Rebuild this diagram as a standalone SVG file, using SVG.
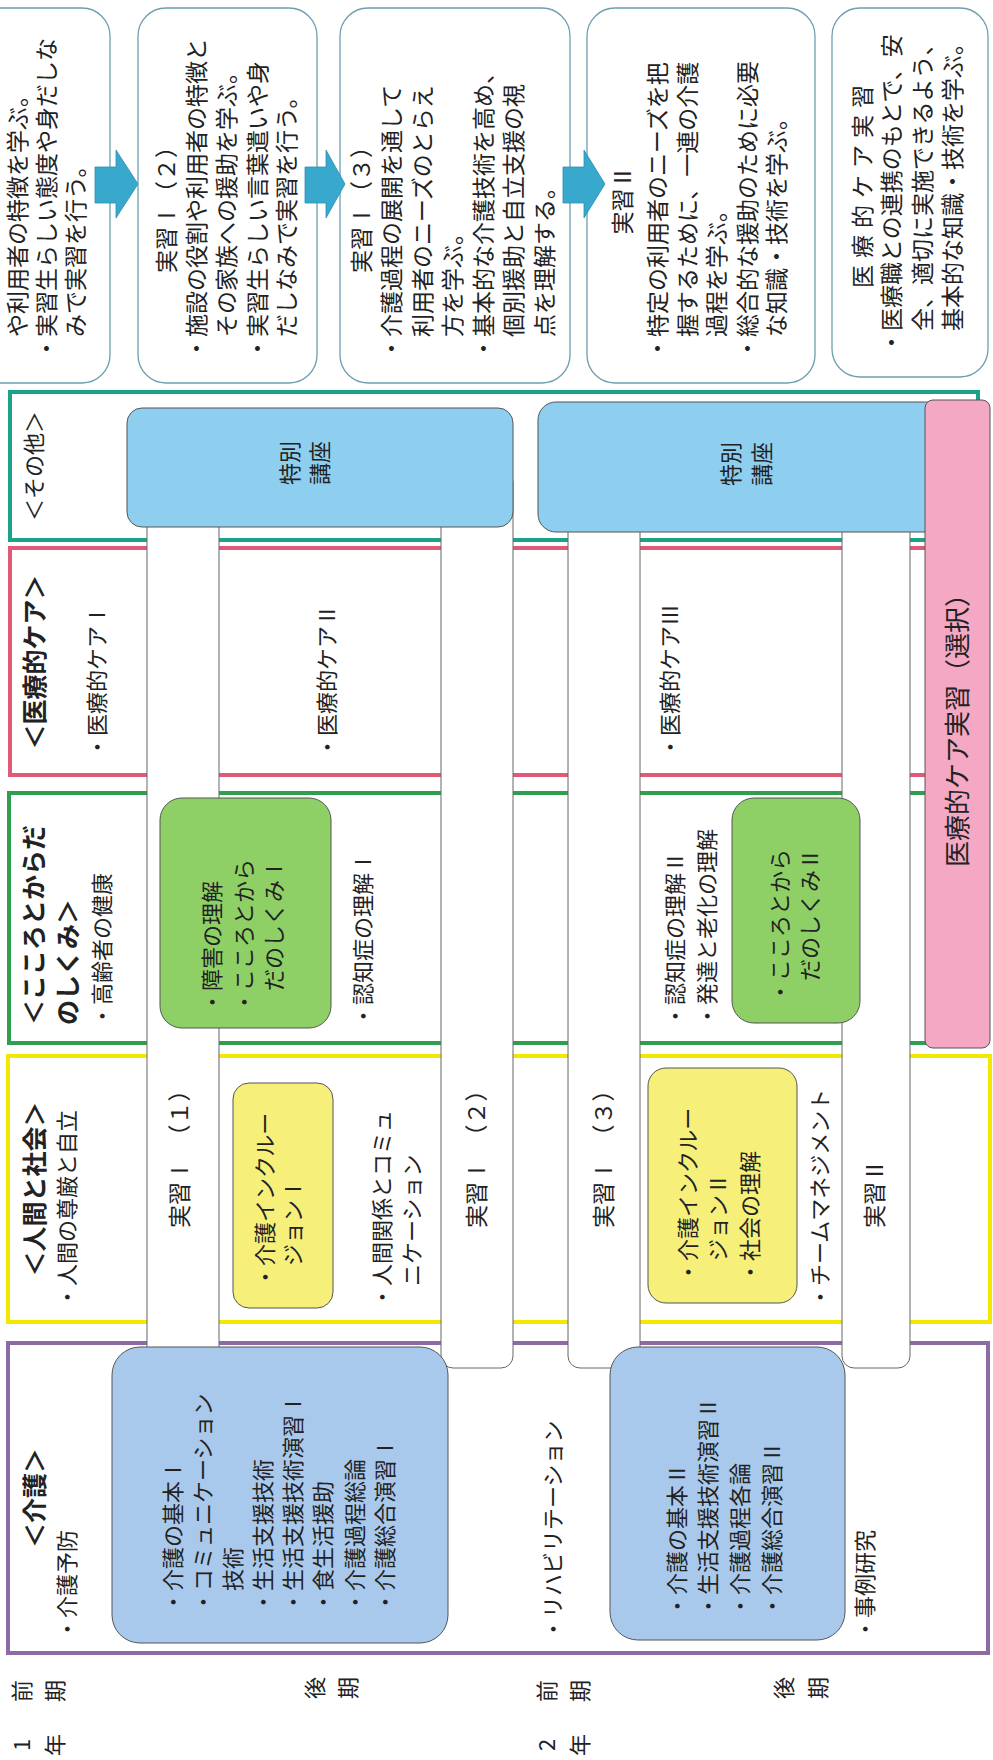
<svg xmlns="http://www.w3.org/2000/svg" width="993" height="1760" viewBox="0 0 993 1760">
<style>
text{font-family:"Noto Sans CJK JP","Noto Sans CJK SC",sans-serif;fill:#222}
.t{font-size:22px}
.h{font-size:25px;font-weight:bold}
.d{font-size:23px}
.m{text-anchor:middle}
.col{fill:#fff;stroke-width:4}
.bar{fill:#fff;stroke:#666;stroke-width:1}
.box{stroke:#555;stroke-width:1}
.desc{fill:#fff;stroke:#6d9fb0;stroke-width:1.3}
.arr{fill:#38a8cc;stroke:#2b8fb3;stroke-width:0.8}
</style>
<rect width="993" height="1760" fill="#fff"/>
<g transform="translate(0,1760) rotate(-90)">

<g id="row-labels" class="t">
<text x="15" y="30" class="m">1</text><text x="15" y="63" class="m">年</text>
<text x="69" y="30" class="m">前</text><text x="69" y="63" class="m">期</text>
<text x="72" y="323" class="m">後</text><text x="72" y="356" class="m">期</text>
<text x="15" y="555" class="m">2</text><text x="15" y="588" class="m">年</text>
<text x="69" y="555" class="m">前</text><text x="69" y="588" class="m">期</text>
<text x="72" y="792" class="m">後</text><text x="72" y="826" class="m">期</text>
</g>

<g id="col-kaigo"><rect class="col" x="107" y="8" width="310" height="980" stroke="#8d6aa6"/></g>
<g id="col-ningen"><rect class="col" x="438" y="8" width="266" height="982" stroke="#f3e800"/></g>
<g id="col-kokoro"><rect class="col" x="717" y="9" width="250" height="969" stroke="#2f9e4f"/></g>
<g id="col-iryo"><rect class="col" x="985" y="10" width="227" height="968" stroke="#e05a78"/></g>
<g id="col-sonota"><rect class="col" x="1220" y="10" width="148" height="968" stroke="#1aa388"/></g>

<g id="bar-jisshu1-1"><rect class="bar" x="392" y="147" width="898" height="72" rx="12"/><text class="d" x="532" y="188">実習Ⅰ　（１）</text></g>
<g id="bar-jisshu1-2"><rect class="bar" x="392" y="441" width="898" height="72" rx="12"/><text class="d" x="532" y="485">実習Ⅰ　（２）</text></g>
<g id="bar-jisshu1-3"><rect class="bar" x="392" y="568" width="898" height="72" rx="12"/><text class="d" x="532" y="612">実習Ⅰ　（３）</text></g>
<g id="bar-jisshu2"><rect class="bar" x="392" y="842" width="898" height="68" rx="12"/><text class="d" x="532" y="883">実習Ⅱ</text></g>

<g id="tokubetsu1"><rect class="box" x="1233" y="127" width="119" height="386" rx="15" fill="#8ecff0"/>
<text class="t m" x="1297" y="298">特別</text><text class="t m" x="1297" y="328">講座</text></g>
<g id="tokubetsu2"><rect class="box" x="1228" y="538" width="130" height="424" rx="18" fill="#8ecff0"/>
<text class="t m" x="1296" y="739">特別</text><text class="t m" x="1296" y="770">講座</text></g>

<g id="iryo-jisshu"><rect class="box" x="712" y="925" width="648" height="65" rx="8" fill="#f4a8c3"/>
<text class="m" style="font-size:26px" x="1036" y="967">医療的ケア実習（選択）</text></g>

<g id="kaigo-head" class="t">
<text class="h m" x="262" y="44">＜介護＞</text>
<text x="120" y="75">・介護予防</text>
<text x="120" y="561">・リハビリテーション</text>
<text x="120" y="873">・事例研究</text>
</g>
<g id="kaigo-list1"><rect class="box" x="117" y="112" width="296" height="336" rx="28" fill="#a9c9ec"/>
<g class="t">
<text x="147" y="181">・介護の基本Ⅰ</text>
<text x="147" y="211">・コミュニケーション</text>
<text x="169" y="241">技術</text>
<text x="147" y="271">・生活支援技術</text>
<text x="147" y="301">・生活支援技術演習Ⅰ</text>
<text x="147" y="331">・食生活援助</text>
<text x="147" y="363">・介護過程総論</text>
<text x="147" y="393">・介護総合演習Ⅰ</text>
</g></g>
<g id="kaigo-list2"><rect class="box" x="120" y="610" width="293" height="235" rx="28" fill="#a9c9ec"/>
<g class="t">
<text x="143" y="685">・介護の基本Ⅱ</text>
<text x="143" y="716">・生活支援技術演習Ⅱ</text>
<text x="143" y="748">・介護過程各論</text>
<text x="143" y="780">・介護総合演習Ⅱ</text>
</g></g>

<g id="ningen-head" class="t">
<text class="h m" x="571" y="44">＜人間と社会＞</text>
<text x="452" y="75">・人間の尊厳と自立</text>
<text x="452" y="390">・人間関係とコミュ</text>
<text x="474" y="420">ニケーション</text>
<text x="452" y="828">・チームマネジメント</text>
</g>
<g id="inclusion1"><rect class="box" x="452" y="233" width="225" height="100" rx="16" fill="#f6f07a"/>
<text class="t" x="472" y="273">・介護インクルー</text><text class="t" x="494" y="301">ジョンⅠ</text></g>
<g id="inclusion2"><rect class="box" x="457" y="648" width="235" height="149" rx="18" fill="#f6f07a"/>
<text class="t" x="477" y="696">・介護インクルー</text><text class="t" x="499" y="726">ジョンⅡ</text><text class="t" x="477" y="758">・社会の理解</text></g>

<g id="kokoro-head" class="t">
<text class="h" x="735" y="43">＜こころとからだ</text>
<text class="h" x="735" y="77">のしくみ＞</text>
<text x="733" y="110">・高齢者の健康</text>
<text x="733" y="371">・認知症の理解Ⅰ</text>
<text x="733" y="683">・認知症の理解Ⅱ</text>
<text x="733" y="715">・発達と老化の理解</text>
</g>
<g id="kokoro1"><rect class="box" x="732" y="160" width="230" height="171" rx="22" fill="#8fd066"/>
<text class="t" x="747" y="220">・障害の理解</text><text class="t" x="747" y="252">・こころとから</text><text class="t" x="769" y="282">だのしくみⅠ</text></g>
<g id="kokoro2"><rect class="box" x="737" y="732" width="225" height="128" rx="22" fill="#8fd066"/>
<text class="t" x="757" y="788">・こころとから</text><text class="t" x="779" y="818">だのしくみⅡ</text></g>

<g id="iryo-head" class="t">
<text class="h m" x="1098" y="44">＜医療的ケア＞</text>
<text x="1002" y="105">・医療的ケアⅠ</text>
<text x="1002" y="335">・医療的ケアⅡ</text>
<text x="1002" y="678">・医療的ケアⅢ</text>
</g>

<g id="sonota-head"><text class="t m" x="1294" y="42">＜その他＞</text></g>

<g id="desc-a"><rect class="desc" x="1377" y="-40" width="375" height="150" rx="28"/>
<g class="d"><text x="1423" y="26">や利用者の特徴を学ぶ。</text><text x="1400" y="55">・実習生らしい態度や身だしな</text><text x="1423" y="84">みで実習を行う。</text></g></g>
<g id="desc-b"><rect class="desc" x="1377" y="138" width="375" height="179" rx="28"/>
<g class="d"><text class="m" x="1556" y="175">実習Ⅰ（２）</text>
<text x="1400" y="205">・施設の役割や利用者の特徴と</text><text x="1423" y="235">その家族への援助を学ぶ。</text>
<text x="1400" y="266">・実習生らしい言葉遣いや身</text><text x="1423" y="295">だしなみで実習を行う。</text></g></g>
<g id="desc-c"><rect class="desc" x="1377" y="340" width="375" height="230" rx="28"/>
<g class="d"><text class="m" x="1556" y="370">実習Ⅰ（３）</text>
<text x="1400" y="400">・介護過程の展開を通して</text><text x="1423" y="431">利用者のニーズのとらえ</text><text x="1423" y="461">方を学ぶ。</text>
<text x="1400" y="492">・基本的な介護技術を高め、</text><text x="1423" y="522">個別援助と自立支援の視</text><text x="1423" y="553">点を理解する。</text></g></g>
<g id="desc-d"><rect class="desc" x="1377" y="587" width="375" height="228" rx="28"/>
<g class="d"><text class="m" x="1560" y="631">実習Ⅱ</text>
<text x="1400" y="666">・特定の利用者のニーズを把</text><text x="1423" y="696">握するために、一連の介護</text><text x="1423" y="725">過程を学ぶ。</text>
<text x="1400" y="756">・総合的な援助のために必要</text><text x="1423" y="785">な知識・技術を学ぶ。</text></g></g>
<g id="desc-e"><rect class="desc" x="1383" y="832" width="369" height="156" rx="28"/>
<g class="d"><text class="m" x="1577" y="871" letter-spacing="7">医療的ケア実習</text>
<text x="1406" y="900">・医療職との連携のもとで、安</text><text x="1429" y="931">全、適切に実施できるよう、</text><text x="1429" y="961">基本的な知識・技術を学ぶ。</text></g></g>

<g id="connectors">
<polygon class="arr" points="1557,95 1593,95 1593,116 1610,116 1576,138 1542,116 1557,116"/>
<polygon class="arr" points="1557,305 1593,305 1593,326 1610,326 1576,345 1542,326 1557,326"/>
<polygon class="arr" points="1557,563 1593,563 1593,584 1610,584 1576,605 1542,584 1557,584"/>
</g>
</g>
</svg>
